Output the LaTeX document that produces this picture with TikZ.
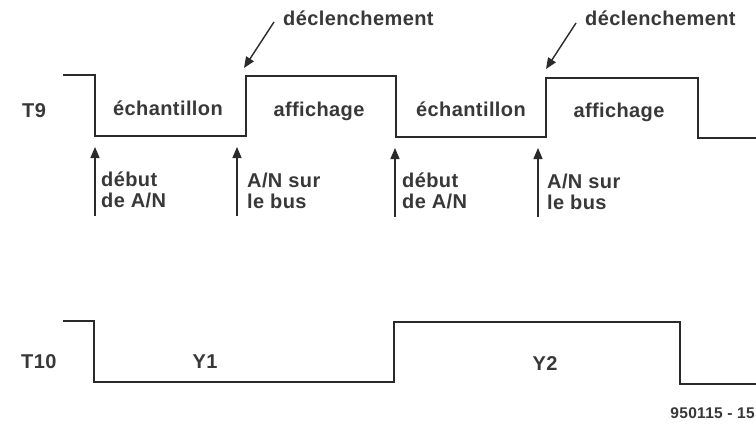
\documentclass[tikz,border=0pt]{standalone}
\usepackage{fontspec}
\usetikzlibrary{arrows.meta}
\newfontfamily\labfont{Liberation Sans}[LetterSpace=2]
\definecolor{ink}{HTML}{2A2A2A}
\definecolor{txt}{HTML}{383838}
\begin{document}
\begin{tikzpicture}[x=1pt,y=-1pt,
  sig/.style={draw=ink,line width=2.6pt,line join=miter},
  marker/.style={draw=ink,line width=1.4pt,-{Triangle[length=11pt,width=9pt]}},
  lab/.style={text=txt,font=\labfont\bfseries\fontsize{20}{21}\selectfont,inner sep=0pt},
  small/.style={text=txt,font=\labfont\bfseries\fontsize{15.5}{17}\selectfont,inner sep=0pt},
  stack/.style={lab,align=left,anchor=north west}]
\useasboundingbox[fill=white] (0,0) rectangle (756,431);
% T9 waveform
\coordinate (a0) at (63,75);
\coordinate (a1) at (95,75);
\coordinate (a2) at (95,136);
\coordinate (a3) at (246,136);
\coordinate (a4) at (246,76);
\coordinate (a5) at (396,76);
\coordinate (a6) at (396,137);
\coordinate (a7) at (546,137);
\coordinate (a8) at (546,78);
\coordinate (a9) at (698,78);
\coordinate (a10) at (698,138);
\coordinate (a11) at (756,138);
\draw[sig] (a0) -- (a1) -- (a2) -- (a3) -- (a4) -- (a5) -- (a6) -- (a7) -- (a8) -- (a9) -- (a10) -- (a11);
% T10 waveform
\coordinate (b0) at (63,321);
\coordinate (b1) at (94,321);
\coordinate (b2) at (94,382);
\coordinate (b3) at (394,382);
\coordinate (b4) at (394,322);
\coordinate (b5) at (680,322);
\coordinate (b6) at (680,384);
\coordinate (b7) at (756,384);
\draw[sig] (b0) -- (b1) -- (b2) -- (b3) -- (b4) -- (b5) -- (b6) -- (b7);
% labels
\node[lab,anchor=base west] (t9) at (22,117) {T9};
\node[lab,anchor=base west] (t10) at (21,368) {T10};
\node[lab,anchor=base] (e1) at (168,115) {échantillon};
\node[lab,anchor=base] (f1) at (319,116) {affichage};
\node[lab,anchor=base] (e2) at (471,116) {échantillon};
\node[lab,anchor=base] (f2) at (619,117) {affichage};
\node[lab,anchor=base] (y1) at (205,368) {Y1};
\node[lab,anchor=base] (y2) at (545,370) {Y2};
\node[small,anchor=base east] (ref) at (755,418) {950115 - 15};
\node[lab,anchor=base west] (d1) at (283,25) {déclenchement};
\node[lab,anchor=base west] (d2) at (585,25) {déclenchement};
% arrow labels
\node[stack] (s1) at (101,172) {début\\de A/N};
\node[stack] (s2) at (247,173) {A/N sur\\le bus};
\node[stack] (s3) at (402,173) {début\\de A/N};
\node[stack] (s4) at (547,174) {A/N sur\\le bus};
% up arrows
\coordinate (u1a) at (95,216);  \coordinate (u1b) at (95,147);
\coordinate (u2a) at (237,216); \coordinate (u2b) at (237,147);
\coordinate (u3a) at (395,217); \coordinate (u3b) at (395,148);
\coordinate (u4a) at (538,217); \coordinate (u4b) at (538,148);
\draw[marker] (u1a) -- (u1b);
\draw[marker] (u2a) -- (u2b);
\draw[marker] (u3a) -- (u3b);
\draw[marker] (u4a) -- (u4b);
% trigger arrows
\coordinate (g1a) at (274,22); \coordinate (g1b) at (244,68);
\coordinate (g2a) at (576,23); \coordinate (g2b) at (546,69);
\draw[marker] (g1a) -- (g1b);
\draw[marker] (g2a) -- (g2b);
\end{tikzpicture}
\end{document}
